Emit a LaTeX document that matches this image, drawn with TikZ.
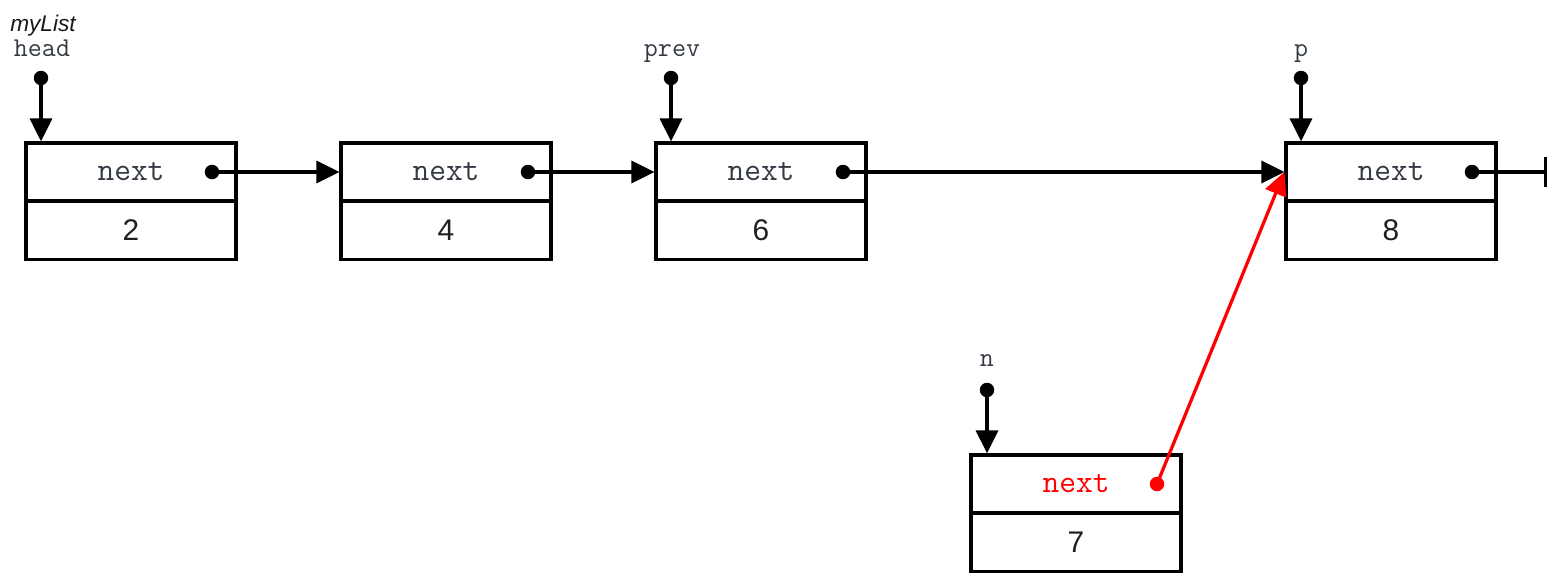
\documentclass[tikz,border=0pt]{standalone}
\usepackage{fontspec}
\setmainfont{Liberation Sans}
\usetikzlibrary{arrows.meta}
\definecolor{txt}{HTML}{333a44}
\tikzset{
  cell/.style={draw, line width=0.065cm, minimum width=4.2cm, minimum height=1.16cm, inner sep=0pt},
  nexttxt/.style={cell, text=txt, font=\ttfamily\fontsize{18.5}{21}\selectfont},
  valtxt/.style={cell, text=black!88, font=\fontsize{17}{20}\selectfont},
  dot/.style={circle, fill, inner sep=0pt, minimum size=0.29cm},
  ptr/.style={line width=0.065cm, -{Triangle[length=0.46cm, width=0.44cm]}},
  lbl/.style={anchor=base, text=txt, font=\ttfamily\fontsize{15.5}{18}\selectfont, inner sep=0pt},
  nullend/.style={line width=0.065cm, -{Bar[width=0.6cm]}}
}
\begin{document}
\begin{tikzpicture}[x=0.02cm, y=-0.02cm]
\useasboundingbox (0,0) rectangle (1559,585);
% list nodes
\node[nexttxt] (n1t) at (131,172) {next};
\node[valtxt]  (n1b) at (131,230.5) {2};
\node[nexttxt] (n2t) at (446,172) {next};
\node[valtxt]  (n2b) at (446,230.5) {4};
\node[nexttxt] (n3t) at (761,172) {next};
\node[valtxt]  (n3b) at (761,230.5) {6};
\node[nexttxt] (n4t) at (1391,172) {next};
\node[valtxt]  (n4b) at (1391,230.5) {8};
\node[nexttxt, text=red] (n5t) at (1076,484) {next};
\node[valtxt]  (n5b) at (1076,542.5) {7};
% next-field dots
\node[dot] (d1) at (212,172) {};
\node[dot] (d2) at (528,172) {};
\node[dot] (d3) at (843,172) {};
\node[dot] (d4) at (1472,172) {};
\node[dot, fill=red] (d5) at (1157,484) {};
% links
\draw[ptr] (d1.center) -- (n2t.west);
\draw[ptr] (d2.center) -- (n3t.west);
\draw[ptr] (d3.center) -- (n4t.west);
\coordinate (null) at (1547,172);
\draw[nullend] (d4.center) -- (null);
\draw[ptr, red] (d5.center) -- (n4t.west);
% external pointers
\node[font=\itshape\fontsize{12.9}{15}\selectfont, text=black!90, anchor=base, inner sep=0pt] (mylist) at (43,31) {myList};
\node[lbl] (head) at (42,56) {head};
\node[lbl] (prev) at (672,56) {prev};
\node[lbl] (p) at (1301,56) {p};
\node[lbl] (n) at (987,366) {n};
\node[dot] (hd) at (41,78) {};
\node[dot] (pd) at (671,78) {};
\node[dot] (qd) at (1301,78) {};
\node[dot] (nd) at (987,390) {};
\draw[ptr] (hd.center) -- (hd |- n1t.north);
\draw[ptr] (pd.center) -- (pd |- n3t.north);
\draw[ptr] (qd.center) -- (qd |- n4t.north);
\draw[ptr] (nd.center) -- (nd |- n5t.north);
\end{tikzpicture}
\end{document}
